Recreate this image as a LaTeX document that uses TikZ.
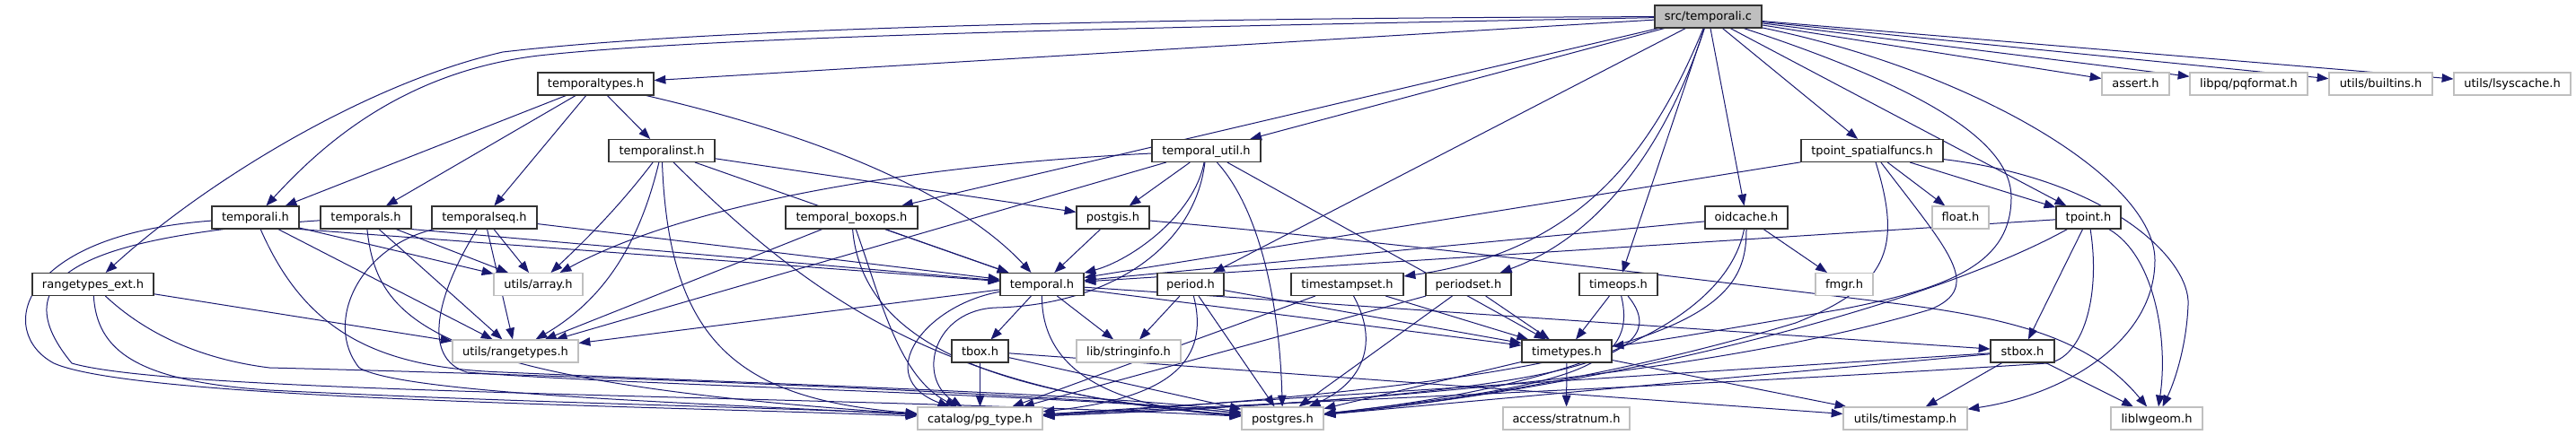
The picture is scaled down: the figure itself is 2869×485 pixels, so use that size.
\documentclass[tikz,border=0pt]{standalone}
\usepackage{fontspec}
\setmainfont{DejaVu Sans}
\usetikzlibrary{arrows.meta}
\definecolor{edgeblue}{HTML}{191970}
\definecolor{greyb}{HTML}{BFBFBF}
\definecolor{bord}{HTML}{333333}
\pgfdeclarelayer{bg}
\pgfsetlayers{bg,main}
\tikzset{
  nd/.style={draw=bord, line width=0.27mm, fill=white, minimum height=6.25mm, inner sep=0pt,
    text height=2.875mm, text depth=0.625mm, font=\fontsize{9.25}{11}\selectfont},
  ext/.style={nd, draw=greyb},
  srcn/.style={nd, fill=greyb},
  wd/.style={minimum width=#1*0.25mm},
  e/.style={draw=edgeblue, line width=0.25mm, -{Triangle[length=3.2mm,width=2.4mm]}},
}
\begin{document}
\begin{tikzpicture}[x=0.25mm,y=-0.25mm]
\useasboundingbox (0,0) rectangle (2869,485);
% nodes
\node[srcn,wd=119] (src) at (1902.5,18.5) {src/temporali.c};
\node[nd,wd=129] (ttypes) at (663.5,93.5) {temporaltypes.h};
\node[nd,wd=118] (tinst) at (737,168) {temporalinst.h};
\node[nd,wd=121] (tutil) at (1343.5,168) {temporal\_util.h};
\node[nd,wd=158] (tpsf) at (2085,168) {tpoint\_spatialfuncs.h};
\node[nd,wd=97] (tempi) at (284.5,242.5) {temporali.h};
\node[nd,wd=101] (temps) at (407.5,242.5) {temporals.h};
\node[nd,wd=117] (tseq) at (539.5,242.5) {temporalseq.h};
\node[nd,wd=147] (boxops) at (948.5,242.5) {temporal\_boxops.h};
\node[nd,wd=81] (postgis) at (1239.5,242.5) {postgis.h};
\node[nd,wd=92] (oidc) at (1945,242.5) {oidcache.h};
\node[ext,wd=63] (float) at (2183.5,242.5) {float.h};
\node[nd,wd=72] (tpoint) at (2326,242.5) {tpoint.h};
\node[nd,wd=135] (rext) at (103.5,317) {rangetypes\_ext.h};
\node[ext,wd=99] (array) at (599.5,317) {utils/array.h};
\node[nd,wd=93] (temporal) at (1160.5,317) {temporal.h};
\node[nd,wd=74] (period) at (1326,317) {period.h};
\node[nd,wd=125] (tsset) at (1500.5,317) {timestampset.h};
\node[nd,wd=95] (pset) at (1635.5,317) {periodset.h};
\node[nd,wd=87] (timeops) at (1802.5,317) {timeops.h};
\node[ext,wd=64] (fmgr) at (2054,317) {fmgr.h};
\node[ext,wd=140] (rtypes) at (574,391.5) {utils/rangetypes.h};
\node[nd,wd=63] (tbox) at (1091.5,391.5) {tbox.h};
\node[ext,wd=116] (stringinfo) at (1257,391.5) {lib/stringinfo.h};
\node[nd,wd=100] (timetypes) at (1745,391.5) {timetypes.h};
\node[nd,wd=71] (stbox) at (2252.5,391.5) {stbox.h};
\node[ext,wd=139] (pgtype) at (1091.5,466.5) {catalog/pg\_type.h};
\node[ext,wd=91] (postgres) at (1428.5,466.5) {postgres.h};
\node[ext,wd=141] (stratnum) at (1744.5,466.5) {access/stratnum.h};
\node[ext,wd=138] (tstamp) at (2122,466.5) {utils/timestamp.h};
\node[ext,wd=102] (liblwgeom) at (2402,466.5) {liblwgeom.h};
\node[ext,wd=75] (assert) at (2378.5,93.5) {assert.h};
\node[ext,wd=131] (pqformat) at (2504.5,93.5) {libpq/pqformat.h};
\node[ext,wd=115] (builtins) at (2651.5,93.5) {utils/builtins.h};
\node[ext,wd=130] (lsyscache) at (2798,93.5) {utils/lsyscache.h};

\begin{pgfonlayer}{bg}
% source file
\draw[e] (src) -- (ttypes);
\draw[e] (src) .. controls (1300,30) and (800,40) .. (600,62) .. controls (450,80) and (360,160) .. (tempi);
\draw[e] (src) .. controls (1300,20) and (800,30) .. (560,58) .. controls (400,95) and (220,210) .. (rext);
\draw[e] (src) -- (boxops);
\draw[e] (src) -- (tutil);
\draw[e] (src) -- (period);
\draw[e] (src) .. controls (1840,170) and (1760,280) .. (tsset);
\draw[e] (src) .. controls (1860,150) and (1790,260) .. (pset);
\draw[e] (src) -- (timeops);
\draw[e] (src) -- (oidc);
\draw[e] (src) -- (tpsf);
\draw[e] (src) -- (tpoint);
\draw[e] (src) .. controls (2150,100) and (2240,160) .. (2240,220) .. controls (2240,290) and (2180,320) .. (2050,345) .. controls (1950,362) and (1850,380) .. (timetypes);
\draw[e] (src) .. controls (2200,80) and (2400,200) .. (2400,290) .. controls (2400,380) and (2300,440) .. (tstamp);
\draw[e] (src) -- (assert);
\draw[e] (src) -- (pqformat);
\draw[e] (src) -- (builtins);
\draw[e] (src) -- (lsyscache);
% temporaltypes.h
\draw[e] (ttypes) -- (tempi);
\draw[e] (ttypes) -- (temps);
\draw[e] (ttypes) -- (tseq);
\draw[e] (ttypes) -- (tinst);
\draw[e] (ttypes) .. controls (950,160) and (1080,230) .. (temporal);
% temporalinst.h
\draw[e] (tinst) .. controls (690,230) and (650,270) .. (array);
\draw[e] (tinst) .. controls (715,260) and (680,330) .. (rtypes);
\draw[e] (tinst) .. controls (745,380) and (820,445) .. (pgtype);
\draw[e] (tinst) .. controls (900,330) and (1050,440) .. (postgres);
\draw[e] (tinst) -- (postgis);
\draw[e] (tinst) -- (temporal);
% temporali.h
\draw[e] (tempi) .. controls (20,262) and (-5,370) .. (60,405) .. controls (150,445) and (700,452) .. (pgtype);
\draw[e] (tempi) .. controls (340,370) and (420,410) .. (560,415) .. controls (900,430) and (1250,440) .. (postgres);
\draw[e] (tempi) -- (array);
\draw[e] (tempi) -- (rtypes);
\draw[e] (tempi.south east) -- (temporal);
% temporals.h
\draw[e] (temps) .. controls (60,265) and (10,320) .. (80,405) .. controls (200,440) and (900,440) .. (postgres);
\draw[e] (temps) .. controls (420,360) and (480,425) .. (pgtype);
\draw[e] (temps) -- (rtypes);
\draw[e] (temps) -- (array);
\draw[e] (temps.south east) -- (temporal);
% temporalseq.h
\draw[e] (tseq) .. controls (400,275) and (360,360) .. (400,410) .. controls (450,440) and (800,450) .. (pgtype);
\draw[e] (tseq) .. controls (485,330) and (470,400) .. (520,415) .. controls (700,430) and (1200,440) .. (postgres);
\draw[e] (tseq) -- (rtypes);
\draw[e] (tseq) -- (array);
\draw[e] (tseq) -- (temporal);
% rangetypes_ext.h
\draw[e] (rext) -- (rtypes);
\draw[e] (rext) .. controls (108,390) and (150,425) .. (300,435) .. controls (600,450) and (900,455) .. (pgtype);
\draw[e] (rext) .. controls (160,370) and (220,400) .. (300,410) .. controls (700,420) and (1200,440) .. (postgres);
% temporal_boxops.h
\draw[e] (boxops) -- (rtypes);
\draw[e] (boxops) -- (temporal);
\draw[e] (boxops) .. controls (980,330) and (1000,420) .. (pgtype);
\draw[e] (boxops) .. controls (960,380) and (1100,440) .. (postgres);
% temporal_util.h
\draw[e] (tutil) .. controls (1000,185) and (760,230) .. (array);
\draw[e] (tutil) -- (rtypes);
\draw[e] (tutil) -- (postgis);
\draw[e] (tutil) .. controls (1330,240) and (1260,290) .. (temporal);
\draw[e] (tutil) .. controls (1330,280) and (1230,340) .. (1110,343) .. controls (1040,345) and (1020,420) .. (pgtype);
\draw[e] (tutil) .. controls (1400,230) and (1425,330) .. (postgres);
\draw[e] (tutil) -- (timetypes);
% postgis.h
\draw[e] (postgis) -- (temporal);
\draw[e] (postgis) .. controls (1500,265) and (1800,300) .. (2100,337) .. controls (2250,355) and (2330,380) .. (liblwgeom);
% temporal.h
\draw[e] (temporal) -- (rtypes);
\draw[e] (temporal) .. controls (1030,340) and (970,420) .. (pgtype);
\draw[e] (temporal) -- (tbox);
\draw[e] (temporal) -- (stringinfo);
\draw[e] (temporal) .. controls (1160,420) and (1250,455) .. (postgres);
\draw[e] (temporal) -- (timetypes);
\draw[e] (temporal) -- (stbox);
% period.h
\draw[e] (period) -- (stringinfo);
\draw[e] (period) -- (timetypes);
\draw[e] (period) -- (postgres);
\draw[e] (period) .. controls (1350,410) and (1290,445) .. (pgtype);
% timestampset.h
\draw[e] (tsset) -- (timetypes);
\draw[e] (tsset) .. controls (1540,390) and (1510,430) .. (postgres);
\draw[e] (tsset) -- (pgtype);
% periodset.h
\draw[e] (pset) -- (timetypes);
\draw[e] (pset) -- (postgres);
\draw[e] (pset) -- (pgtype);
% timeops.h
\draw[e] (timeops) -- (timetypes);
\draw[e] (timeops) .. controls (1825,410) and (1750,430) .. (postgres);
\draw[e] (timeops) .. controls (1870,400) and (1750,440) .. (pgtype);
% oidcache.h
\draw[e] (oidc) -- (temporal);
\draw[e] (oidc) -- (fmgr);
\draw[e] (oidc) .. controls (1930,320) and (1850,420) .. (postgres);
\draw[e] (oidc) .. controls (1945,340) and (1900,420) .. (pgtype);
% tpoint_spatialfuncs.h
\draw[e] (tpsf) -- (temporal);
\draw[e] (tpsf) -- (float);
\draw[e] (tpsf) -- (tpoint);
\draw[e] (tpsf) .. controls (2350,200) and (2440,290) .. (2437,340) .. controls (2435,390) and (2420,430) .. (liblwgeom);
\draw[e] (tpsf) .. controls (2120,280) and (2100,320) .. (2000,360) .. controls (1800,420) and (1600,450) .. (postgres);
\draw[e] (tpsf) .. controls (2170,280) and (2210,320) .. (2150,345) .. controls (1900,420) and (1500,450) .. (pgtype);
% tpoint.h
\draw[e] (tpoint) -- (temporal);
\draw[e] (tpoint) -- (stbox);
\draw[e] (tpoint) .. controls (2400,285) and (2415,380) .. (liblwgeom);
\draw[e] (tpoint) .. controls (2150,340) and (1800,430) .. (postgres);
\draw[e] (tpoint) .. controls (2340,330) and (2320,400) .. (2280,405) .. controls (1900,430) and (1400,450) .. (pgtype);
% stbox.h
\draw[e] (stbox) -- (tstamp);
\draw[e] (stbox) -- (liblwgeom);
\draw[e] (stbox) -- (postgres);
\draw[e] (stbox) -- (pgtype);
% tbox.h
\draw[e] (tbox) -- (pgtype);
\draw[e] (tbox) -- (postgres);
\draw[e] (tbox) -- (tstamp);
% timetypes.h
\draw[e] (timetypes) -- (stratnum);
\draw[e] (timetypes) -- (postgres);
\draw[e] (timetypes) -- (tstamp);
\end{pgfonlayer}
\end{tikzpicture}
\end{document}
